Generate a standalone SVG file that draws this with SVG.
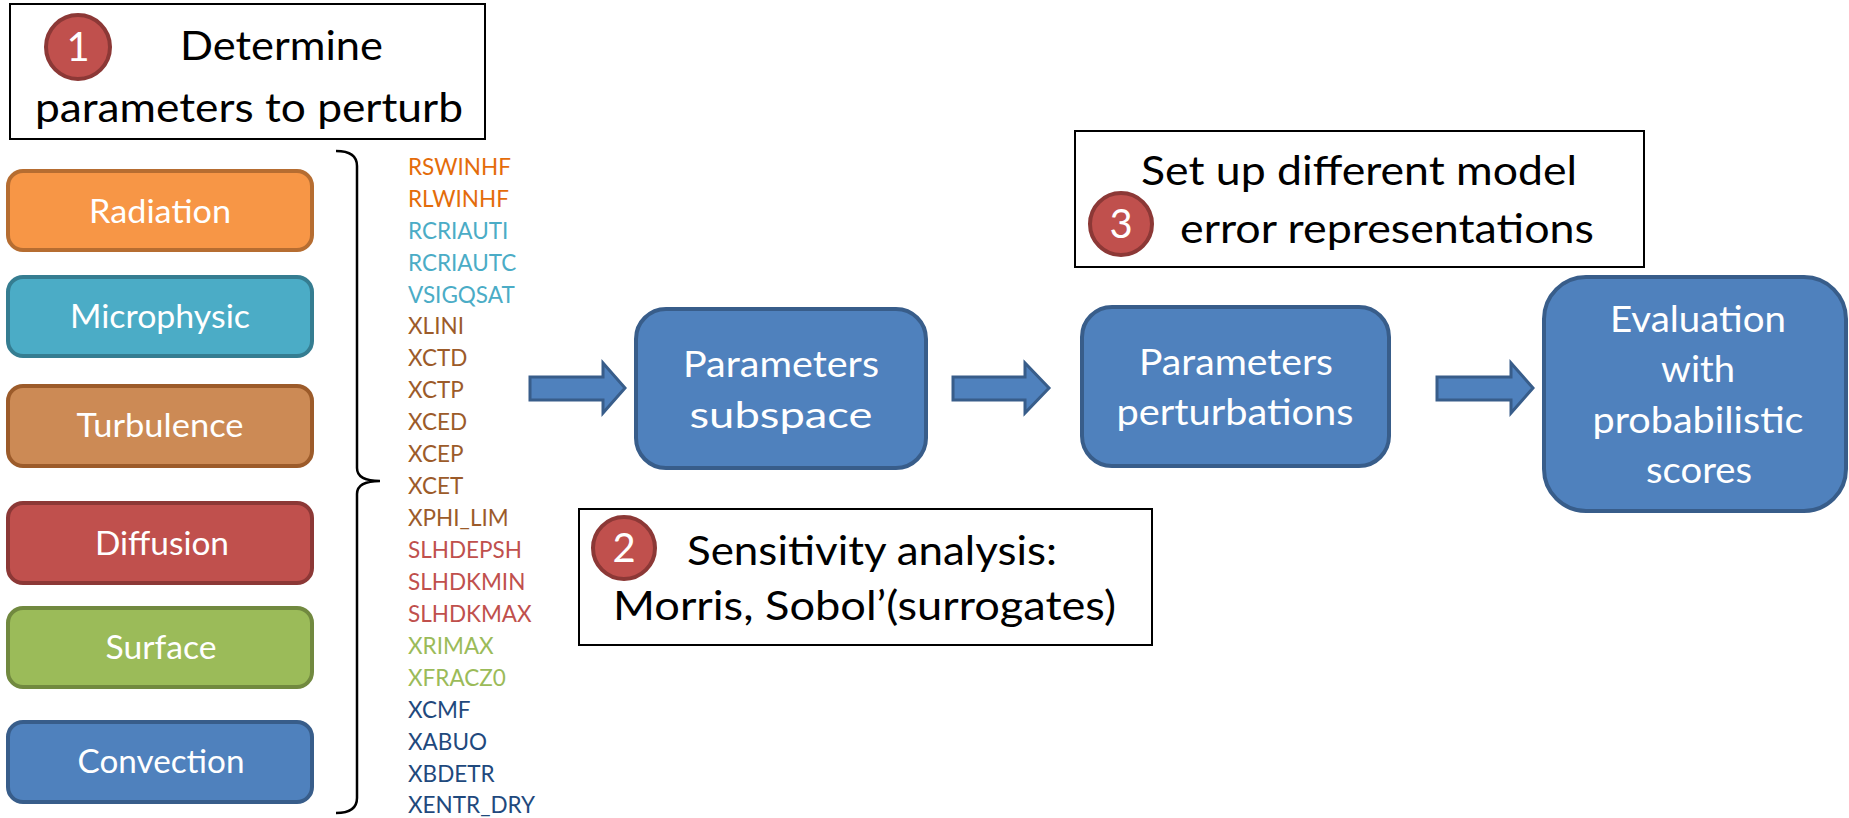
<svg xmlns="http://www.w3.org/2000/svg" width="1849" height="818" viewBox="0 0 1849 818">
<defs>
<style>
text{font-family:Lato,"Open Sans","Liberation Sans",sans-serif}
.cat rect{stroke-width:4}
.cat text{fill:#fff;font-size:32px;text-anchor:middle}
.lbl rect{fill:#fff;stroke:#000;stroke-width:2}
.lbl text{fill:#000;font-size:40px}
.num circle{fill:#C0504D;stroke:#8C3836;stroke-width:4}
.num text{fill:#fff;font-size:40px;text-anchor:middle}
.step rect{fill:#4F81BD;stroke:#385D8A;stroke-width:4}
.step text{fill:#fff;font-size:36px;text-anchor:middle}
.arr polygon{fill:#4F81BD;stroke:#385D8A;stroke-width:3;stroke-linejoin:miter}
.par text{font-size:22.5px}
.or{fill:#E46C0A}.bl{fill:#4BACC6}.br{fill:#9C5B2A}.rd{fill:#C0504D}.gr{fill:#9BBB59}.db{fill:#1F497D}
</style>
</defs>
<g id="label1" class="lbl">
<rect x="10" y="4" width="475" height="135"/>
<text x="180" y="60" textLength="203" lengthAdjust="spacingAndGlyphs">Determine</text>
<text x="35" y="122" textLength="428" lengthAdjust="spacingAndGlyphs">parameters to perturb</text>
<g class="num"><circle cx="78" cy="47" r="32"/><text x="78" y="61">1</text></g>
</g>
<g id="radiation" class="cat"><rect x="8" y="171" width="304" height="79" rx="15" fill="#F79646" stroke="#B66D31"/><text x="160" y="223" textLength="142" lengthAdjust="spacingAndGlyphs">Radiation</text></g>
<g id="microphysic" class="cat"><rect x="8" y="277" width="304" height="79" rx="15" fill="#4BACC6" stroke="#357D91"/><text x="160" y="328" textLength="180" lengthAdjust="spacingAndGlyphs">Microphysic</text></g>
<g id="turbulence" class="cat"><rect x="8" y="386" width="304" height="80" rx="15" fill="#CC8A55" stroke="#9C5B2A"/><text x="160" y="437" textLength="167" lengthAdjust="spacingAndGlyphs">Turbulence</text></g>
<g id="diffusion" class="cat"><rect x="8" y="503" width="304" height="80" rx="15" fill="#C0504D" stroke="#8C3836"/><text x="162" y="555" textLength="134" lengthAdjust="spacingAndGlyphs">Diffusion</text></g>
<g id="surface" class="cat"><rect x="8" y="608" width="304" height="79" rx="15" fill="#9BBB59" stroke="#71893F"/><text x="161" y="659" textLength="111" lengthAdjust="spacingAndGlyphs">Surface</text></g>
<g id="convection" class="cat"><rect x="8" y="722" width="304" height="80" rx="15" fill="#4F81BD" stroke="#385D8A"/><text x="161" y="773" textLength="167" lengthAdjust="spacingAndGlyphs">Convection</text></g>
<g id="brace"><path d="M336 151 Q357 151 357 166 L357 468 Q357 481 380 481 Q357 481 357 494 L357 798 Q357 813 336 813" fill="none" stroke="#000" stroke-width="2.5"/></g>
<g id="parameters" class="par">
<text x="408" y="175" class="or">RSWINHF</text>
<text x="408" y="207" class="or">RLWINHF</text>
<text x="408" y="239" class="bl">RCRIAUTI</text>
<text x="408" y="271" class="bl">RCRIAUTC</text>
<text x="408" y="303" class="bl">VSIGQSAT</text>
<text x="408" y="334" class="br">XLINI</text>
<text x="408" y="366" class="br">XCTD</text>
<text x="408" y="398" class="br">XCTP</text>
<text x="408" y="430" class="br">XCED</text>
<text x="408" y="462" class="br">XCEP</text>
<text x="408" y="494" class="br">XCET</text>
<text x="408" y="526" class="br">XPHI_LIM</text>
<text x="408" y="558" class="rd">SLHDEPSH</text>
<text x="408" y="590" class="rd">SLHDKMIN</text>
<text x="408" y="622" class="rd">SLHDKMAX</text>
<text x="408" y="654" class="gr">XRIMAX</text>
<text x="408" y="686" class="gr">XFRACZ0</text>
<text x="408" y="718" class="db">XCMF</text>
<text x="408" y="750" class="db">XABUO</text>
<text x="408" y="782" class="db">XBDETR</text>
<text x="408" y="813" class="db">XENTR_DRY</text>
</g>
<g id="connectors" class="arr">
<polygon points="530,377 603,377 603,363 625,388 603,413 603,400 530,400"/>
<polygon points="953,377 1025,377 1025,363 1049,388 1025,413 1025,400 953,400"/>
<polygon points="1437,377 1511,377 1511,363 1533,388 1511,413 1511,400 1437,400"/>
</g>
<g id="subspace" class="step"><rect x="636" y="309" width="290" height="159" rx="30"/>
<text x="781" y="377" textLength="196" lengthAdjust="spacingAndGlyphs">Parameters</text>
<text x="781" y="428" textLength="183" lengthAdjust="spacingAndGlyphs">subspace</text></g>
<g id="perturbations" class="step"><rect x="1082" y="307" width="307" height="159" rx="30"/>
<text x="1236" y="375" textLength="194" lengthAdjust="spacingAndGlyphs">Parameters</text>
<text x="1235" y="425" textLength="237" lengthAdjust="spacingAndGlyphs">perturbations</text></g>
<g id="evaluation" class="step"><rect x="1544" y="277" width="302" height="234" rx="42"/>
<text x="1698" y="332" textLength="176" lengthAdjust="spacingAndGlyphs">Evaluation</text>
<text x="1698" y="382" textLength="74" lengthAdjust="spacingAndGlyphs">with</text>
<text x="1698" y="433" textLength="211" lengthAdjust="spacingAndGlyphs">probabilistic</text>
<text x="1699" y="483" textLength="106" lengthAdjust="spacingAndGlyphs">scores</text></g>
<g id="label2" class="lbl">
<rect x="579" y="509" width="573" height="136"/>
<text x="687" y="565" textLength="370" lengthAdjust="spacingAndGlyphs">Sensitivity analysis:</text>
<text x="613" y="620" textLength="503" lengthAdjust="spacingAndGlyphs">Morris, Sobol’(surrogates)</text>
<g class="num"><circle cx="624" cy="548" r="31"/><text x="624" y="562">2</text></g>
</g>
<g id="label3" class="lbl">
<rect x="1075" y="131" width="569" height="136"/>
<text x="1141" y="185" textLength="436" lengthAdjust="spacingAndGlyphs">Set up different model</text>
<text x="1180" y="243" textLength="414" lengthAdjust="spacingAndGlyphs">error representations</text>
<g class="num"><circle cx="1121" cy="224" r="31"/><text x="1121" y="238">3</text></g>
</g>
</svg>
